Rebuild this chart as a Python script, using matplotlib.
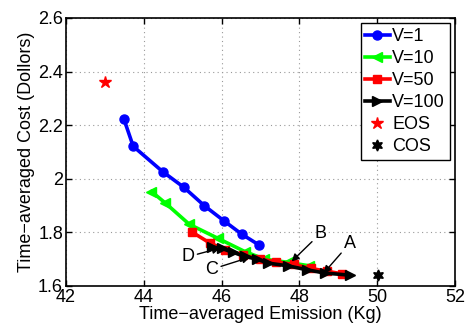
import matplotlib
matplotlib.use("Agg")
import matplotlib.pyplot as plt

plt.rcParams['font.family'] = ['Liberation Sans', 'DejaVu Sans']

v1_x = [43.49, 43.73, 44.49, 45.03, 45.56, 46.06, 46.52, 46.97]
v1_y = [2.223, 2.121, 2.026, 1.968, 1.899, 1.843, 1.793, 1.752]
v10_x = [44.2, 44.55, 45.17, 45.9, 46.6, 47.1, 47.7, 48.25]
v10_y = [1.952, 1.91, 1.83, 1.778, 1.728, 1.70, 1.688, 1.675]
v50_x = [45.25, 45.7, 46.1, 46.55, 47.0, 47.4, 47.85, 48.3, 48.7, 49.1]
v50_y = [1.80, 1.76, 1.735, 1.715, 1.70, 1.69, 1.68, 1.665, 1.655, 1.645]
v100_x = [45.75, 46.0, 46.3, 46.6, 46.9, 47.2, 47.7, 48.2, 48.65, 49.3]
v100_y = [1.745, 1.74, 1.725, 1.71, 1.70, 1.685, 1.675, 1.66, 1.648, 1.64]
eos = (43.0, 2.36)
cos_ = (50.03, 1.64)

xticks = [42, 44, 46, 48, 50, 52]
yticks = [1.6, 1.8, 2.0, 2.2, 2.4, 2.6]
ytick_labels = ['1.6', '1.8', '2', '2.2', '2.4', '2.6']

fig = plt.figure(figsize=(4.74, 3.26), dpi=100)
ax = fig.add_axes([0.139, 0.123, 0.821, 0.822])

lw = 2.6
ax.plot(v1_x, v1_y, '-o', color=(0, 0, 1), lw=lw, ms=6.5, label='V=1')
ax.plot(v10_x, v10_y, '-<', color=(0, 1, 0), lw=lw, ms=7, label='V=10')
ax.plot(v50_x, v50_y, '-s', color=(1, 0, 0), lw=lw, ms=6, label='V=50')
ax.plot(v100_x, v100_y, '->', color='black', lw=lw, ms=7, label='V=100')
ax.plot([eos[0]], [eos[1]], '*', color='red', ms=9, ls='none', label='EOS')
ax.plot([cos_[0]], [cos_[1]], marker=(6, 1, 0), color='black', ms=8, ls='none', label='COS')

ap = dict(arrowstyle='-|>', color='black', lw=1.0, mutation_scale=11, shrinkA=0, shrinkB=0)
ax.annotate('A', xy=(48.62, 1.647), xytext=(49.3, 1.76), fontsize=13, ha='center', va='center',
            arrowprops=ap)
ax.annotate('B', xy=(47.8, 1.691), xytext=(48.55, 1.797), fontsize=13, ha='center', va='center',
            arrowprops=ap)
ax.annotate('D', xy=(45.96, 1.741), xytext=(45.14, 1.709), fontsize=13, ha='center', va='center',
            arrowprops=ap)
ax.annotate('C', xy=(46.73, 1.707), xytext=(45.75, 1.662), fontsize=13, ha='center', va='center',
            arrowprops=ap)

ax.set_xlim(42, 52)
ax.set_ylim(1.6, 2.6)
ax.set_xticks(xticks)
ax.set_xticklabels([str(t) for t in xticks])
ax.set_yticks(yticks)
ax.set_yticklabels(ytick_labels)
ax.tick_params(direction='in', top=True, right=True, labelsize=13, length=4, width=1, pad=2)
ax.grid(True, color='#999999', ls=(0, (1, 3)), lw=0.8)
for s in ax.spines.values():
    s.set_linewidth(1.2)

ax.set_xlabel('Time\u2212averaged Emission (Kg)', fontsize=13, labelpad=0)
ax.set_ylabel('Time\u2212averaged Cost (Dollors)', fontsize=13, labelpad=2)

leg = ax.legend(loc='upper right', fontsize=13, frameon=True, fancybox=False,
                edgecolor='black', framealpha=1, handlelength=1.35, handletextpad=0.15,
                borderpad=0.25, labelspacing=0.28, borderaxespad=0.3, numpoints=1)
leg.get_frame().set_linewidth(1.0)

fig.savefig('out.png', dpi=100)
